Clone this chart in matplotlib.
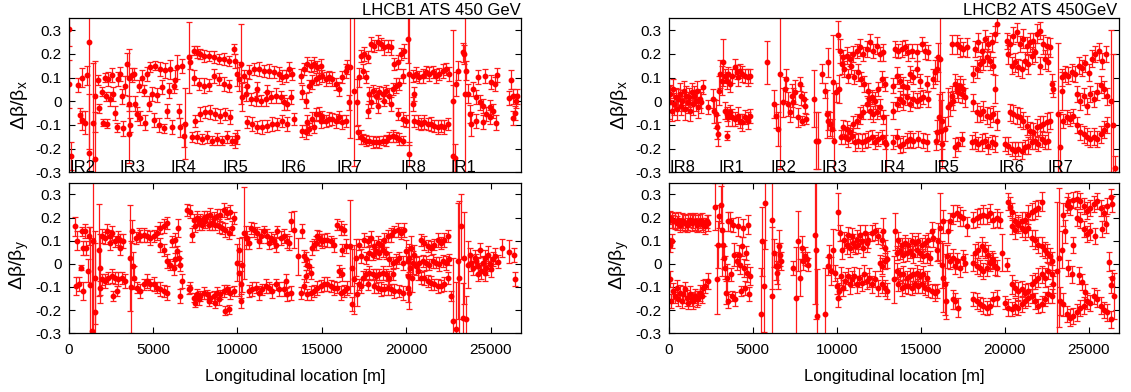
import matplotlib
matplotlib.use("Agg")
import matplotlib.pyplot as plt

plt.rcParams["font.family"] = ["Liberation Sans", "DejaVu Sans"]
plt.rcParams["mathtext.fontset"] = "custom"
plt.rcParams["mathtext.rm"] = "Liberation Sans"
plt.rcParams["mathtext.it"] = "Liberation Sans:italic"

# ---------------- beam 1, horizontal ----------------
b1x_s = [
    30, 40, 130, 584, 683, 782, 800, 980, 1079,
    1237, 1220, 1475, 1574, 1540,
    1772, 1831, 1970, 2030, 2168, 2227, 2306, 2366, 2465,
    2564, 2663, 2762, 2861, 2960, 3059, 3158, 3257, 3356, 3455, 3554, 3560, 3600, 3653,
    3752, 3851, 3950, 4049, 4148, 4247, 4346, 4445, 4544, 4643,
    4742, 4841, 4940, 5039, 5138, 5237, 5336, 5435, 5534, 5633, 5732, 5831, 5930,
    6029, 6128, 6227, 6326, 6425, 6524, 6623, 6722, 6860, 6920, 7118, 7217,
    7415, 7613, 7811, 8009, 8306, 8603, 8900, 9197, 9494,
    7430, 7712, 8020, 8317, 8614, 8911, 9208, 9505,
    7514, 7811, 8108, 8405, 8702, 8999, 9296, 9593,
    7316, 7613, 7910, 8207, 8504, 8801, 9098, 9395, 9692,
    9791, 9890, 9989, 10088, 10187, 10286, 9989, 9890,
    10385, 10682, 10979, 11276, 11573, 11870, 12167, 12464,
    10484, 10781, 11078, 11375, 11672, 11969, 12266, 12563, 10583, 11177, 11771,
    10583, 10880, 11177, 11474, 11771, 12068, 12365,
    12662, 12860, 13058, 13256, 12761, 12959, 13157, 12662, 12959, 13355,
    13751, 13949, 14147, 14345, 14543, 14741, 14939,
    13850, 14048, 14246, 14444, 14642, 14840, 15038,
    13850, 14048, 14246, 14444, 14642, 14840, 15038, 14147, 14543, 14939,
    15236, 15434, 15632, 15830, 16028, 16226, 16424, 16523,
    15236, 15434, 15632, 15830, 16028, 16226, 16424, 16622,
    16681, 16919, 17077, 17157, 17216, 17315,
    17315, 17513, 17711, 17909, 18107, 18305, 18503, 18701, 18899, 19097, 19295, 19493, 19691, 19889,
    17414, 17612, 17810, 18008, 18206, 18404, 18602, 18800, 18998, 19196, 19394, 19592, 19790,
    17414, 17612, 17810, 18008, 18206, 18404, 18602, 18800, 18998, 19196, 19394, 19592, 19790,
    17711, 17909, 18305, 18701, 19097, 19493, 19790, 19988,
    20127, 20186, 20190,
    20384, 20582, 20780, 20978, 21176, 21374, 21572, 21770, 21968, 22166, 22364, 22562,
    20483, 20681, 20879, 21077, 21275, 21473, 21671, 21869, 22067, 22265, 22463, 20384, 20483,
    22760, 22800, 22918, 22958, 23057, 23354, 23453, 23493, 23552, 23651, 23750, 23849,
    23948, 24146, 24344, 24542, 24740, 24938, 25136, 24245, 24641, 25037, 25235, 24146, 24542, 24938,
    25300, 25350, 26100, 26200, 26300, 26350, 26450, 26500, 26550,
]
b1x_val = [
    0.305, 0.073, -0.23, 0.07, -0.06, 0.10, -0.08, -0.09, 0.11,
    0.25, -0.22, -0.09, -0.245, 0.02,
    0.09, -0.03, 0.04, -0.09, 0.10, 0.02, -0.095, 0.095, 0.01,
    0.11, 0.03, -0.05, -0.11, 0.095, 0.115, 0.02, -0.115, 0.065, 0.155, -0.01, 0.10, -0.14, -0.10,
    0.11, 0.115, -0.01, -0.055, 0.065, -0.07, 0.10, 0.045, -0.09, 0.115,
    -0.01, 0.145, 0.03, -0.08, 0.15, 0.025, -0.10, 0.135, 0.06, -0.115, 0.13, -0.04, 0.045,
    0.135, -0.11, 0.065, 0.09, 0.145, -0.04, -0.11, 0.15, -0.145, -0.095, 0.185, 0.165,
    0.213, 0.206, 0.20, 0.19, 0.19, 0.188, 0.178, 0.178, 0.17,
    0.10, 0.073, 0.066, 0.07, 0.108, 0.094, 0.073, 0.066,
    -0.082, -0.054, -0.047, -0.047, -0.054, -0.061, -0.054, -0.068,
    -0.152, -0.152, -0.159, -0.152, -0.166, -0.159, -0.166, -0.152, -0.166,
    0.22, 0.17, 0.115, 0.094, 0.157, 0.017, -0.152, -0.166,
    0.108, 0.122, 0.136, 0.136, 0.129, 0.126, 0.122, 0.115,
    0.031, 0.01, 0.01, 0.003, 0.01, 0.017, 0.024, 0.017, 0.066, 0.052, 0.038,
    -0.089, -0.096, -0.11, -0.11, -0.103, -0.096, -0.096,
    0.101, 0.108, 0.136, 0.115, -0.005, -0.012, 0.017, -0.082, -0.096, -0.075,
    0.108, 0.136, 0.157, 0.15, 0.157, 0.143, 0.15,
    0.038, 0.003, 0.066, 0.08, 0.094, 0.101, 0.108,
    -0.124, -0.131, -0.117, -0.075, -0.054, -0.054, -0.068, -0.089, -0.11, -0.082,
    0.094, 0.101, 0.094, 0.073, 0.052, 0.101, 0.129, 0.143,
    -0.082, -0.075, -0.075, -0.082, -0.068, -0.089, -0.082, -0.005,
    0.143, 0.045, -0.005, -0.131, 0.101, -0.152,
    0.192, 0.199, 0.185, 0.241, 0.234, 0.248, 0.241, 0.227, 0.234, 0.227, 0.157, 0.164, 0.199, 0.213,
    0.129, 0.101, 0.031, 0.045, 0.024, 0.038, 0.031, 0.045, 0.024, 0.052, 0.066, 0.073, 0.108,
    -0.159, -0.166, -0.166, -0.173, -0.173, -0.173, -0.166, -0.166, -0.152, -0.145, -0.152, -0.159, -0.166,
    -0.04, -0.005, -0.019, 0.003, -0.012, -0.054, -0.075, -0.082,
    0.263, 0.115, -0.222,
    0.108, 0.115, 0.101, 0.108, 0.122, 0.115, 0.122, 0.108, 0.115, 0.129, 0.136, 0.115,
    -0.082, -0.089, -0.096, -0.089, -0.096, -0.096, -0.103, -0.11, -0.103, -0.11, -0.096, -0.012, 0.031,
    -0.23, 0.0, -0.24, 0.073, 0.129, 0.206, 0.199, 0.031, 0.129, 0.031, -0.054, -0.096,
    0.052, 0.017, -0.005, -0.019, -0.054, -0.026, -0.04, 0.101, 0.108, 0.08, 0.073, -0.082, -0.089, -0.068,
    -0.09, 0.11, 0.015, 0.09, -0.07, 0.02, -0.05, 0.0, 0.02,
]
b1x_err = [
    0.07, 0.10, 0.06, 0.03, 0.03, 0.04, 0.04, 0.05, 0.04,
    0.45, 0.25, 0.25, 0.20, 0.15,
    0.02, 0.02, 0.02, 0.015, 0.02, 0.02, 0.02, 0.03, 0.03,
    0.03, 0.03, 0.03, 0.02, 0.03, 0.03, 0.03, 0.03, 0.04, 0.05, 0.03, 0.12, 0.12, 0.03,
    0.03, 0.025, 0.03, 0.03, 0.025, 0.03, 0.03, 0.025, 0.03, 0.03,
    0.03, 0.02, 0.03, 0.03, 0.02, 0.03, 0.03, 0.03, 0.03, 0.02, 0.03, 0.03, 0.03,
    0.04, 0.03, 0.03, 0.04, 0.05, 0.03, 0.04, 0.03, 0.05, 0.15, 0.15, 0.03,
    0.02, 0.025, 0.02, 0.025, 0.02, 0.025, 0.02, 0.025, 0.02,
    0.03, 0.025, 0.03, 0.025, 0.03, 0.025, 0.03, 0.025,
    0.025, 0.03, 0.025, 0.03, 0.025, 0.03, 0.025, 0.03,
    0.02, 0.025, 0.02, 0.025, 0.02, 0.025, 0.02, 0.025, 0.02,
    0.02, 0.03, 0.05, 0.05, 0.17, 0.06, 0.03, 0.03,
    0.025, 0.03, 0.025, 0.03, 0.025, 0.03, 0.025, 0.03,
    0.03, 0.025, 0.03, 0.025, 0.03, 0.025, 0.03, 0.025, 0.03, 0.03, 0.03,
    0.025, 0.03, 0.025, 0.03, 0.025, 0.03, 0.025,
    0.03, 0.025, 0.03, 0.025, 0.03, 0.025, 0.03, 0.025, 0.03, 0.025,
    0.03, 0.025, 0.03, 0.025, 0.03, 0.025, 0.03,
    0.03, 0.03, 0.025, 0.03, 0.025, 0.03, 0.025,
    0.025, 0.03, 0.025, 0.03, 0.025, 0.03, 0.025, 0.03, 0.025, 0.03,
    0.03, 0.025, 0.03, 0.025, 0.03, 0.025, 0.03, 0.03,
    0.025, 0.03, 0.025, 0.03, 0.025, 0.03, 0.025, 0.03,
    0.30, 0.32, 0.10, 0.03, 0.04, 0.03,
    0.025, 0.03, 0.025, 0.03, 0.025, 0.03, 0.025, 0.03, 0.025, 0.03, 0.025, 0.03, 0.025, 0.03,
    0.03, 0.025, 0.03, 0.025, 0.03, 0.025, 0.03, 0.025, 0.03, 0.025, 0.03, 0.025, 0.03,
    0.02, 0.025, 0.02, 0.025, 0.02, 0.025, 0.02, 0.025, 0.02, 0.025, 0.02, 0.025, 0.02,
    0.03, 0.025, 0.03, 0.025, 0.03, 0.025, 0.03, 0.025,
    0.10, 0.30, 0.05,
    0.025, 0.03, 0.025, 0.03, 0.025, 0.03, 0.025, 0.03, 0.025, 0.03, 0.025, 0.03,
    0.025, 0.03, 0.025, 0.03, 0.025, 0.03, 0.025, 0.03, 0.025, 0.03, 0.025, 0.03, 0.03,
    0.30, 0.30, 0.06, 0.05, 0.04, 0.04, 0.04, 0.33, 0.04, 0.04, 0.04, 0.05,
    0.03, 0.03, 0.03, 0.03, 0.03, 0.03, 0.03, 0.03, 0.03, 0.03, 0.03, 0.03, 0.03, 0.03,
    0.03, 0.03, 0.03, 0.04, 0.03, 0.03, 0.03, 0.03, 0.03,
]

# ---------------- beam 1, vertical ----------------
b1y_s = [
    386, 525, 445, 643, 723, 782, 841, 881, 980, 1039,
    1180, 1240, 1280, 1380, 1470, 1540, 1580, 1830, 1850,
    1970, 2168, 2267, 2465, 2564, 2762, 2960, 3059, 3257,
    1871, 1970, 2168, 2366, 2564, 2762, 2960, 3158, 3356, 2663, 2861, 2465, 3059,
    3653, 3712, 3752, 3811, 3851,
    4009, 4148, 4247, 4445, 4643, 4841, 5039, 5237, 5435, 5633, 5831,
    4049, 4247, 4445, 4643, 4841, 5039, 5237, 5435, 5633, 5831,
    5435, 5633, 5831, 6029, 6227, 6425, 6524, 6326, 6623, 6128, 6326, 6465, 6722, 6623,
    7019, 7217, 7415, 7613, 7811, 8009, 8207, 8405, 8603, 8801, 8999, 9197, 9395, 9593, 9791,
    7316, 7514, 7712, 7910, 8108, 8306, 8504, 8702, 8900, 9098, 9296, 9494, 9692,
    7118, 7217, 7415, 7613, 7811, 8009, 8207, 8405, 8603, 8801, 8999, 9197, 9395, 9593, 9791,
    7514, 7712, 8306, 8702, 9296, 9494, 8900,
    9989, 10088, 10187, 10286, 10385, 10484, 10187, 10088,
    10583, 10781, 10979, 11177, 11375, 11573, 11771, 11969, 12167, 12365, 12563, 10682, 11276, 11870, 12266,
    10682, 10880, 11078, 11276, 11474, 11672, 11870, 12068, 12266, 12464,
    12761, 12959, 13157, 13355, 13058, 12761, 12959, 13157, 12860, 13593,
    13850, 13949, 14048, 14147, 14246, 14345, 14444, 14543, 14642, 14741, 14840, 14939, 15038, 15137,
    13751, 13949, 14147, 14345, 14543, 14741, 14939, 15137, 14048,
    15335, 15533, 15731, 15929, 16127, 16325, 16424, 16226, 15335, 15533, 15731, 15929, 16127, 16325, 16523, 16028, 16226,
    16681, 16820, 16919, 17018, 17077, 16820,
    17216, 17513, 17711, 17909, 18107, 18305, 18503, 18701, 18899, 19097, 19295, 19493, 19691, 19889,
    17315, 17612, 17810, 18008, 18206, 18404, 18602, 18800, 18998, 19196, 19394, 19592, 19790,
    17216, 17414, 17612, 17810, 18008, 18206, 18404, 18602, 18800, 18998, 19196,
    17315, 17711, 18107, 18305, 18503, 18701, 18899, 19097, 19295, 19592, 19790,
    19988, 20087, 20127, 20186, 20245, 20285, 20325, 20384, 20483, 20582, 20681, 20127, 20186,
    20879, 21077, 21275, 21473, 21671, 21869, 22067, 22265, 22463,
    20780, 20978, 21176, 21374, 21572, 21770, 21968, 22166, 22364, 22562,
    20879, 21077, 21275, 21473, 21671, 21869, 22067, 22265, 22463, 22661,
    22760, 22958, 23057, 23156, 23255, 23354, 23453, 23552, 23651,
    23750, 23849, 23948, 24047, 24146, 24245, 24344, 24443, 24542, 24641, 24740, 24839, 24938, 25037, 25136, 25235, 24245, 24641,
    25450, 25700, 26100, 26400, 26450,
]
b1y_val = [
    0.162, 0.10, -0.096, -0.089, -0.017, 0.14, 0.069, -0.117, 0.14, 0.069,
    -0.03, 0.12, -0.09, -0.29, 0.10, -0.21, -0.06, 0.06, -0.02,
    0.119, 0.112, 0.14, 0.119, 0.133, 0.097, 0.112, 0.104, 0.097,
    -0.103, -0.067, -0.074, -0.06, -0.053, -0.06, -0.067, -0.06, -0.074, -0.139, -0.117, 0.09, 0.069,
    0.026, -0.10, 0.14, -0.01, -0.06,
    0.112, 0.126, 0.12, 0.126, 0.12, 0.112, 0.12, 0.133, 0.155, 0.162, 0.176,
    -0.103, -0.117, -0.089, -0.074, -0.089, -0.089, -0.103, -0.11, -0.117, -0.125,
    0.083, 0.06, 0.012, -0.003, -0.017, 0.054, 0.026, 0.02, -0.003, 0.097, 0.104, 0.155, -0.074, -0.14,
    0.233, 0.226, 0.19, 0.197, 0.19, 0.197, 0.205, 0.212, 0.197, 0.205, 0.212, 0.233, 0.219, 0.226, 0.197,
    0.126, 0.162, 0.176, 0.169, 0.183, 0.169, 0.176, 0.169, 0.162, 0.155, 0.148, 0.133, 0.155,
    -0.11, -0.103, -0.146, -0.132, -0.139, -0.125, -0.132, -0.146, -0.139, -0.125, -0.132, -0.117, -0.11, -0.125, -0.117,
    -0.167, -0.153, -0.16, -0.167, -0.203, -0.196, -0.153,
    0.005, -0.039, -0.089, -0.003, 0.133, 0.112, -0.16, 0.061,
    0.112, 0.155, 0.148, 0.133, 0.12, 0.14, 0.12, 0.112, 0.097, 0.14, 0.112, 0.09, 0.097, 0.09, 0.083,
    -0.117, -0.11, -0.103, -0.125, -0.11, -0.096, -0.103, -0.117, -0.089, -0.11,
    0.12, 0.097, 0.183, 0.148, 0.09, -0.11, -0.132, -0.125, -0.074, 0.033,
    0.14, 0.033, 0.019, -0.003, -0.01, -0.039, 0.069, 0.083, 0.09, 0.12, 0.112, 0.104, 0.097, 0.104,
    -0.125, -0.096, -0.132, -0.125, -0.117, -0.103, -0.096, -0.089, -0.053,
    0.104, 0.097, 0.083, 0.169, 0.155, 0.148, 0.076, 0.061, -0.089, -0.096, -0.103, -0.103, -0.125, -0.117, -0.103, -0.031, -0.046,
    0.076, -0.017, -0.067, 0.026, -0.132, -0.174,
    0.083, 0.104, 0.097, 0.112, 0.076, 0.09, 0.083, 0.104, 0.12, 0.126, 0.14, 0.148, 0.133, 0.148,
    0.033, 0.026, 0.047, 0.04, 0.054, 0.047, 0.061, 0.047, 0.019, 0.005, 0.012, 0.026, 0.005,
    -0.089, -0.06, -0.046, -0.039, -0.046, -0.053, -0.046, -0.039, -0.046, -0.06, -0.046,
    -0.096, -0.089, -0.096, -0.103, -0.11, -0.11, -0.103, -0.11, -0.117, -0.117, -0.125,
    0.054, 0.012, -0.053, 0.026, -0.017, 0.069, -0.06, 0.005, 0.04, -0.01, -0.031, -0.103, -0.125,
    0.104, 0.09, 0.076, 0.069, 0.083, 0.104, 0.09, 0.104, 0.12,
    0.005, 0.012, 0.005, -0.003, 0.012, 0.005, 0.0, 0.012, 0.005, 0.019,
    -0.06, -0.06, -0.074, -0.082, -0.089, -0.096, -0.096, -0.089, -0.06, -0.139,
    -0.246, -0.28, 0.012, -0.06, 0.162, -0.232, 0.026, -0.24, -0.003,
    0.04, 0.005, -0.017, 0.026, 0.012, -0.01, 0.061, -0.031, 0.005, 0.026, -0.017, 0.04, 0.0, -0.024, 0.019, 0.033, -0.046, -0.039,
    0.01, 0.068, 0.053, 0.038, -0.065,
]
b1y_err = [
    0.04, 0.04, 0.04, 0.03, 0.01, 0.02, 0.03, 0.04, 0.03, 0.03,
    0.05, 0.04, 0.25, 0.40, 0.45, 0.30, 0.20, 0.20, 0.15,
    0.03, 0.025, 0.03, 0.025, 0.03, 0.025, 0.03, 0.025, 0.03,
    0.03, 0.025, 0.03, 0.025, 0.03, 0.025, 0.03, 0.025, 0.03, 0.02, 0.02, 0.03, 0.03,
    0.23, 0.20, 0.05, 0.06, 0.05,
    0.025, 0.03, 0.025, 0.03, 0.025, 0.03, 0.025, 0.03, 0.025, 0.03, 0.025,
    0.025, 0.03, 0.025, 0.03, 0.025, 0.03, 0.025, 0.03, 0.025, 0.03,
    0.03, 0.025, 0.03, 0.025, 0.03, 0.025, 0.03, 0.025, 0.03, 0.025, 0.03, 0.04, 0.03, 0.03,
    0.025, 0.03, 0.025, 0.03, 0.025, 0.03, 0.025, 0.03, 0.025, 0.03, 0.025, 0.03, 0.025, 0.03, 0.025,
    0.03, 0.025, 0.03, 0.025, 0.03, 0.025, 0.03, 0.025, 0.03, 0.025, 0.03, 0.025, 0.03,
    0.02, 0.025, 0.02, 0.025, 0.02, 0.025, 0.02, 0.025, 0.02, 0.025, 0.02, 0.025, 0.02, 0.025, 0.02,
    0.02, 0.025, 0.02, 0.025, 0.02, 0.02, 0.025,
    0.08, 0.10, 0.06, 0.12, 0.20, 0.05, 0.03, 0.05,
    0.03, 0.025, 0.03, 0.025, 0.03, 0.025, 0.03, 0.025, 0.03, 0.025, 0.03, 0.025, 0.03, 0.025, 0.03,
    0.025, 0.03, 0.025, 0.03, 0.025, 0.03, 0.025, 0.03, 0.025, 0.03,
    0.03, 0.03, 0.04, 0.08, 0.03, 0.03, 0.03, 0.03, 0.03, 0.08,
    0.03, 0.025, 0.03, 0.025, 0.03, 0.025, 0.03, 0.025, 0.03, 0.025, 0.03, 0.025, 0.03, 0.025,
    0.025, 0.03, 0.025, 0.03, 0.025, 0.03, 0.025, 0.03, 0.025,
    0.03, 0.025, 0.03, 0.025, 0.03, 0.025, 0.03, 0.025, 0.03, 0.025, 0.03, 0.025, 0.03, 0.025, 0.03, 0.025, 0.03,
    0.20, 0.08, 0.15, 0.08, 0.05, 0.03,
    0.025, 0.03, 0.025, 0.03, 0.025, 0.03, 0.025, 0.03, 0.025, 0.03, 0.025, 0.03, 0.025, 0.03,
    0.03, 0.025, 0.03, 0.025, 0.03, 0.025, 0.03, 0.025, 0.03, 0.025, 0.03, 0.025, 0.03,
    0.025, 0.03, 0.025, 0.03, 0.025, 0.03, 0.025, 0.03, 0.025, 0.03, 0.025,
    0.03, 0.025, 0.03, 0.025, 0.03, 0.025, 0.03, 0.025, 0.03, 0.025, 0.03,
    0.05, 0.06, 0.06, 0.06, 0.05, 0.05, 0.06, 0.05, 0.04, 0.04, 0.04, 0.06, 0.07,
    0.025, 0.03, 0.025, 0.03, 0.025, 0.03, 0.025, 0.03, 0.025,
    0.03, 0.025, 0.03, 0.025, 0.03, 0.025, 0.03, 0.025, 0.03, 0.025,
    0.025, 0.03, 0.025, 0.03, 0.025, 0.03, 0.025, 0.03, 0.025, 0.02,
    0.27, 0.20, 0.25, 0.33, 0.14, 0.15, 0.20, 0.10, 0.10,
    0.03, 0.035, 0.03, 0.035, 0.03, 0.035, 0.03, 0.035, 0.03, 0.035, 0.03, 0.035, 0.03, 0.035, 0.03, 0.035, 0.03, 0.035,
    0.03, 0.04, 0.05, 0.03, 0.03,
]

# ---------------- beam 2, horizontal ----------------
b2x_s = [
    18, 77, 177, 276, 335, 414, 494, 573, 652, 732, 811, 890, 970,
    1049, 1128, 1208, 1287, 1366, 1446, 1525, 1604, 1684, 1763, 1842, 1922, 2021,
    2358, 2655, 2715, 2794, 2873, 2913, 2992, 3052, 3151, 3250,
    3349, 3448, 3548, 3647, 3746, 3944, 4043, 4143, 4242, 4380, 4539, 4698, 4837,
    3349, 3448, 3548, 3647, 3786, 3944, 4102, 4242, 4380, 4539, 4698, 4837, 3448,
    5828, 6284, 6364, 6522, 6621, 6820, 6919, 6978, 7117, 7216,
    7315, 7415, 7514, 7712, 7811, 7870, 7950, 8049, 8109, 8148,
    8664, 8743, 8902, 9100, 9298, 9398, 9497, 9457, 9596,
    9695, 9794, 9854, 9933, 10052, 10131, 10191, 10230, 10290,
    10389, 10587, 10786, 10984, 11182, 11380, 11579, 11777,
    10449, 10647, 10845, 11043, 11241, 11440, 11638, 11837,
    10389, 10587, 10786, 10984, 11182, 11380, 11579, 11777, 11916,
    10488, 10687, 10885, 11083, 11281, 11480, 11678, 11876,
    11977, 12175, 12374, 12572, 12770,
    12076, 12274, 12473, 12671, 12869,
    12175, 12374, 12572, 12770, 11977,
    12076, 12274, 12473, 12671, 12869, 12929,
    13464, 13662, 13861, 14059, 14257, 14456, 14753, 15051, 15249, 15447,
    13365, 13563, 13762, 13960, 14158, 14357, 14555, 14753, 14952, 15348,
    13365, 13563, 13762, 13960, 14158, 14357, 14555, 14753, 14952, 15150, 15447,
    13365, 13563, 13762, 13960, 14158, 14357, 14555, 14853, 15150, 15348,
    15745, 15844, 15943, 16042, 16141, 16101, 16180, 16240, 16280, 15983, 15904, 16439,
    16637, 16736, 16835, 16934, 17033, 17132, 17232, 17331, 17430, 17529, 17628,
    16835, 17132, 17331, 17529, 17727, 17033, 17232, 17430,
    18223, 18422, 18620, 18819, 19017, 19215, 19413, 19513,
    18124, 18323, 18521, 18720, 18918, 19116, 19314, 19413,
    18124, 18323, 18521, 18720, 18918, 19116, 19314, 19513,
    18025, 18223, 18422, 18620, 18819, 19017, 19215, 19413,
    20107, 20306, 20504, 20702, 20901, 21099, 21297, 21496, 21694, 21892, 22091, 22289, 22487, 22685,
    20207, 20405, 20603, 20801, 21000, 21198, 21396, 21595, 21793, 22091, 22388, 22586, 22784, 22884,
    20306, 20504, 20702, 20901, 21099, 21297, 21496, 21694, 21892, 22091, 22289, 22487, 22685,
    20009, 20207, 20405, 20603, 20801, 21000, 21198, 21396, 21595, 21793, 21991, 22190, 22388, 22586,
    23181, 23280, 23380, 23578, 23777, 23975, 24172, 23479, 23677, 23876, 24074, 23380,
    24400, 24600, 24800, 25000, 25200, 25400, 25600, 25800, 26000,
    24300, 24500, 24700, 24900, 25100, 25300, 25500, 25700, 25900, 26100,
    24300, 24500, 24700, 24900, 25100, 25300, 25500, 25700, 25900, 26100,
    26350, 26450, 26550,
]
b2x_val = [
    -0.005, 0.03, -0.04, 0.052, -0.012, 0.017, -0.033, 0.01, 0.031, -0.019, 0.003, 0.045, -0.033,
    0.024, -0.005, 0.017, -0.04, 0.038, -0.012, 0.024, 0.003, 0.045, -0.026, 0.01, -0.005, 0.059,
    -0.026, 0.01, -0.04, -0.054, -0.11, -0.138, 0.045, 0.115, 0.087, 0.164,
    0.108, 0.087, 0.115, 0.073, 0.108, 0.143, 0.122, 0.101, 0.129, 0.115, 0.108, 0.101, 0.108,
    -0.04, -0.054, -0.068, -0.047, -0.068, -0.075, -0.061, -0.082, -0.089, -0.068, -0.082, -0.061, -0.145,
    0.164, -0.012, -0.061, -0.117, 0.115, -0.005, 0.052, 0.094, -0.012, -0.047,
    0.024, -0.005, 0.038, -0.068, 0.073, 0.024, -0.082, 0.01, -0.019, -0.075,
    0.01, -0.166, -0.166, 0.115, 0.045, -0.054, 0.164, -0.082, -0.096,
    -0.117, 0.08, -0.166, 0.038, 0.28, 0.052, 0.213, -0.152, 0.157,
    0.185, 0.192, 0.178, 0.199, 0.213, 0.227, 0.199, 0.22,
    0.136, 0.108, 0.15, 0.101, 0.122, 0.094, 0.073, 0.045,
    -0.11, -0.117, -0.131, -0.096, -0.082, -0.061, -0.047, -0.012, 0.01,
    -0.152, -0.159, -0.145, -0.173, -0.166, -0.173, -0.166, -0.159,
    0.248, 0.213, 0.234, 0.199, 0.206,
    0.017, 0.003, 0.052, 0.094, 0.073,
    -0.054, -0.047, -0.026, -0.068, -0.04,
    -0.152, -0.173, -0.159, -0.152, -0.173, -0.18,
    0.22, 0.213, 0.22, 0.227, 0.206, 0.213, 0.206, 0.241, 0.213, 0.206,
    0.066, 0.108, 0.087, 0.066, 0.059, 0.115, 0.101, 0.136, 0.087, 0.073,
    -0.04, -0.012, 0.01, -0.005, 0.017, -0.012, 0.01, 0.003, 0.01, 0.017, 0.01,
    -0.173, -0.152, -0.187, -0.18, -0.166, -0.159, -0.166, -0.159, -0.166, -0.173,
    0.094, 0.122, 0.136, 0.185, 0.178, -0.068, -0.124, -0.18, -0.082, -0.131, -0.166, -0.117,
    -0.026, -0.012, 0.024, 0.003, 0.073, 0.052, 0.038, 0.066, 0.031, 0.052, 0.017,
    0.241, 0.241, 0.227, 0.22, 0.227, -0.194, -0.18, -0.159,
    0.22, 0.248, 0.213, 0.262, 0.241, 0.248, 0.284, 0.326,
    0.115, 0.136, 0.157, 0.171, 0.185, 0.171, 0.15, 0.052,
    -0.005, -0.047, -0.054, -0.04, -0.061, -0.068, -0.054, -0.082,
    -0.173, -0.166, -0.18, -0.173, -0.166, -0.187, -0.173, -0.18,
    0.255, 0.241, 0.277, 0.291, 0.241, 0.263, 0.234, 0.248, 0.255, 0.284, 0.298, 0.241, 0.234, 0.227,
    0.199, 0.15, 0.164, 0.143, 0.136, 0.171, 0.157, 0.192, 0.206, 0.15, 0.178, 0.164, 0.073, 0.052,
    -0.047, -0.054, -0.061, -0.068, -0.082, -0.103, -0.124, -0.131, -0.11, -0.103, -0.096, -0.089, -0.082,
    -0.18, -0.187, -0.201, -0.208, -0.201, -0.208, -0.194, -0.187, -0.173, -0.166, -0.18, -0.159, -0.173, -0.166,
    -0.054, -0.194, 0.101, 0.115, 0.108, 0.122, 0.115, -0.082, -0.068, -0.075, -0.061, 0.045,
    0.15, 0.14, 0.16, 0.12, 0.18, 0.20, 0.21, 0.17, 0.20,
    0.03, 0.0, 0.02, -0.02, 0.03, 0.01, 0.04, 0.07, 0.05, 0.02,
    -0.10, -0.13, -0.14, -0.15, -0.16, -0.15, -0.16, -0.14, -0.12, -0.10,
    0.0, -0.10, -0.28,
]
b2x_err = [
    0.07, 0.04, 0.045, 0.04, 0.045, 0.04, 0.045, 0.04, 0.045, 0.04, 0.045, 0.04, 0.045,
    0.04, 0.045, 0.04, 0.045, 0.04, 0.045, 0.04, 0.045, 0.04, 0.045, 0.04, 0.045, 0.03,
    0.03, 0.04, 0.05, 0.06, 0.05, 0.05, 0.06, 0.06, 0.06, 0.10,
    0.03, 0.035, 0.03, 0.035, 0.03, 0.035, 0.03, 0.035, 0.03, 0.035, 0.03, 0.035, 0.03,
    0.035, 0.03, 0.035, 0.03, 0.035, 0.03, 0.035, 0.03, 0.035, 0.03, 0.035, 0.03, 0.02,
    0.09, 0.06, 0.05, 0.07, 0.40, 0.06, 0.05, 0.04, 0.05, 0.04,
    0.05, 0.06, 0.05, 0.04, 0.03, 0.04, 0.02, 0.03, 0.03, 0.02,
    0.12, 0.12, 0.12, 0.04, 0.03, 0.10, 0.06, 0.04, 0.05,
    0.04, 0.20, 0.20, 0.04, 0.06, 0.06, 0.05, 0.03, 0.04,
    0.03, 0.035, 0.03, 0.035, 0.03, 0.035, 0.03, 0.035,
    0.035, 0.03, 0.035, 0.03, 0.035, 0.03, 0.035, 0.03,
    0.03, 0.035, 0.03, 0.035, 0.03, 0.035, 0.03, 0.035, 0.03,
    0.03, 0.035, 0.03, 0.035, 0.03, 0.035, 0.03, 0.035,
    0.035, 0.03, 0.035, 0.03, 0.035,
    0.03, 0.035, 0.03, 0.035, 0.03,
    0.035, 0.03, 0.035, 0.03, 0.035,
    0.03, 0.03, 0.03, 0.03, 0.03, 0.12,
    0.035, 0.03, 0.035, 0.03, 0.035, 0.03, 0.035, 0.03, 0.035, 0.03,
    0.03, 0.035, 0.03, 0.035, 0.03, 0.035, 0.03, 0.035, 0.03, 0.035,
    0.035, 0.03, 0.035, 0.03, 0.035, 0.03, 0.035, 0.03, 0.035, 0.03, 0.035,
    0.03, 0.035, 0.03, 0.035, 0.03, 0.035, 0.03, 0.035, 0.03, 0.035,
    0.04, 0.05, 0.05, 0.06, 0.30, 0.10, 0.13, 0.10, 0.12, 0.05, 0.04, 0.05,
    0.08, 0.05, 0.04, 0.04, 0.04, 0.04, 0.04, 0.04, 0.04, 0.04, 0.04,
    0.04, 0.04, 0.04, 0.03, 0.04, 0.04, 0.03, 0.03,
    0.035, 0.04, 0.035, 0.04, 0.035, 0.04, 0.035, 0.04,
    0.035, 0.04, 0.035, 0.04, 0.035, 0.04, 0.035, 0.06,
    0.035, 0.04, 0.035, 0.04, 0.035, 0.04, 0.035, 0.04,
    0.03, 0.035, 0.03, 0.035, 0.03, 0.035, 0.03, 0.035,
    0.035, 0.04, 0.035, 0.04, 0.035, 0.04, 0.035, 0.04, 0.035, 0.04, 0.035, 0.04, 0.035, 0.04,
    0.04, 0.035, 0.04, 0.035, 0.04, 0.035, 0.04, 0.035, 0.04, 0.035, 0.04, 0.035, 0.04, 0.035,
    0.035, 0.04, 0.035, 0.04, 0.035, 0.04, 0.035, 0.04, 0.035, 0.04, 0.035, 0.04, 0.035,
    0.03, 0.035, 0.03, 0.035, 0.03, 0.035, 0.03, 0.035, 0.03, 0.035, 0.03, 0.035, 0.03, 0.035,
    0.30, 0.15, 0.035, 0.035, 0.035, 0.035, 0.035, 0.03, 0.03, 0.03, 0.03, 0.08,
    0.035, 0.035, 0.035, 0.035, 0.035, 0.035, 0.035, 0.035, 0.035,
    0.035, 0.035, 0.035, 0.035, 0.035, 0.035, 0.035, 0.035, 0.035, 0.035,
    0.035, 0.035, 0.035, 0.035, 0.035, 0.035, 0.035, 0.035, 0.035, 0.035,
    0.30, 0.30, 0.05,
]

# ---------------- beam 2, vertical ----------------
b2y_s = [
    77, 177, 276, 375, 474, 573, 672, 771, 870, 970, 1069, 1168,
    1267, 1366, 1465, 1565, 1664, 1763, 1862, 1961, 2060, 2159, 2258, 2358,
    77, 177, 77, 137, 276, 375, 474, 573, 672, 771, 870, 970, 1069,
    1168, 1267, 1366, 1465, 1565, 1664, 1763, 1862, 1961, 2060, 2159, 2318,
    2754, 2853, 2913, 2992, 3111, 3191, 3250, 3310, 3349, 3389, 3448,
    3508, 3548, 3647, 3706, 3786, 3845, 3904, 3944, 4043, 4102, 4182,
    4242, 4301, 4380, 4440, 4499, 4579, 4638, 4698, 4777, 4837, 4539,
    5491, 5570, 5670, 5729, 6126, 6166, 6284, 6364, 6423, 6522, 6562, 6621, 6681,
    7415, 7573, 7712, 7811, 7910, 8009, 8109, 8208, 8268,
    8703, 8763, 8842, 9298, 9457, 9537, 9636, 9794,
    10092, 10191, 10330, 10449, 10587, 10687, 10786, 10885, 10984,
    11083, 11182, 11281, 11380, 11480, 11579, 11678, 11777, 11876,
    9893, 9992, 10052, 10131, 10250, 10389, 10488, 10647, 10786,
    10885, 11043, 11182, 11321, 11480, 11619, 11777, 11916,
    12076, 12274, 12473, 12671, 12770, 12869, 12572, 12671, 12869, 12968,
    12076, 12274, 12473, 12671, 12869, 12968, 13464, 13425,
    13662, 13861, 14059, 14257, 14456, 14654, 14852, 15051, 15249, 15447,
    13563, 13762, 13960, 14158, 14357, 14555, 14753, 14952, 15150, 15348, 15546,
    13563, 13762, 13960, 14158, 14357, 14555, 14753, 14952, 15150, 15348,
    13662, 13861, 14059, 14257, 14456, 14654, 14852, 15051, 15249, 15447, 15645, 15844, 15983,
    15645, 15745, 15943, 16042, 16141, 16240, 16300, 16340, 16439, 16499, 16578, 16637,
    16736, 16934, 17132, 17331, 17529, 17727, 16736, 16934, 17132, 17331, 17529, 17628, 17033, 16934, 17033, 17232,
    18124, 18323, 18521, 18720, 18918, 19116, 19314, 19513, 19711,
    18124, 18223, 18422, 18620, 18819, 19017, 19215, 19413, 18323,
    18521, 18720, 18918, 19116, 19314, 19513, 19810, 20107,
    18124, 18323, 18521, 18720, 18918, 19116, 19314, 19513,
    20207, 20306, 20405, 20603, 20801, 21000, 21198, 21396, 21595, 21793, 21991, 22190,
    20405, 20603, 20801, 21000, 21198, 21396, 21595, 21793, 21991, 22190, 22388, 22487, 22685, 22784,
    20405, 20603, 20801, 21000, 21198, 21396, 21595, 21793, 21991, 22190, 22388, 22586, 22784,
    20009, 20207, 20405, 20603, 20801, 21000, 21198, 21396, 21595, 21793, 21991, 22190, 22388, 22586, 22784, 22884,
    23082, 23240, 23280, 23380, 23479, 23578, 23479, 23677, 23777,
    23876, 24074, 23677, 23876, 24074, 23777, 23975, 24034,
    24300, 24500, 24700, 24900, 25100, 25300, 25500, 25700, 25900, 26100, 26300, 26400,
    24300, 24500, 24700, 24900, 25100, 25400, 25800, 26000, 26200,
    24300, 24500, 24700, 24900, 25100, 25300, 25500, 25700, 25900, 26100, 26300,
    24400, 24600, 24800, 26350, 26400, 26500,
]
b2y_val = [
    0.20, 0.19, 0.183, 0.186, 0.176, 0.19, 0.169, 0.183, 0.186, 0.176, 0.169, 0.18,
    0.19, 0.176, 0.186, 0.183, 0.169, 0.176, 0.186, 0.183, 0.169, 0.162, 0.183, 0.176,
    0.083, 0.097, -0.067, -0.16, -0.117, -0.139, -0.103, -0.153, -0.125, -0.16, -0.132, -0.11, -0.146,
    -0.167, -0.132, -0.153, -0.16, -0.139, -0.153, -0.146, -0.125, -0.139, -0.103, -0.096, -0.074,
    0.247, -0.067, 0.083, 0.205, 0.255, 0.147, 0.083, 0.026, -0.017, -0.125, -0.06,
    0.183, -0.16, 0.183, -0.046, -0.139, 0.169, 0.04, -0.153, 0.012, 0.162, 0.04,
    -0.003, -0.117, 0.076, 0.155, -0.017, 0.047, -0.039, 0.169, -0.132, -0.053, -0.103,
    -0.217, 0.097, -0.096, 0.262, -0.139, 0.19, 0.047, -0.01, -0.039, -0.01, 0.076, 0.04, 0.012,
    -0.017, -0.146, 0.097, -0.06, 0.069, 0.012, 0.033, 0.019, -0.003,
    0.126, 0.061, -0.224, -0.217, -0.01, 0.033, -0.031, 0.061,
    0.226, 0.133, 0.061, 0.104, 0.083, 0.126, 0.069, 0.119, 0.09,
    0.076, 0.104, 0.083, 0.126, 0.097, 0.069, 0.133, 0.09, 0.104,
    -0.039, -0.096, -0.146, -0.117, -0.053, -0.103, -0.074, -0.053, -0.089,
    -0.067, -0.053, -0.089, -0.06, -0.082, -0.046, -0.074, -0.06,
    0.133, 0.14, 0.119, 0.104, 0.14, 0.069, 0.004, -0.01, 0.012, 0.019,
    -0.089, -0.067, -0.103, -0.089, -0.103, -0.117, 0.14, -0.067,
    0.104, 0.083, 0.09, 0.083, 0.097, 0.09, 0.097, 0.083, 0.09, 0.104,
    0.047, 0.054, 0.04, 0.047, 0.054, 0.04, 0.061, 0.047, 0.033, 0.04, 0.026,
    -0.031, -0.046, -0.046, -0.06, -0.053, -0.046, -0.039, -0.053, -0.046, -0.06,
    -0.089, -0.103, -0.096, -0.096, -0.103, -0.089, -0.096, -0.089, -0.103, -0.11, -0.117, -0.125, -0.117,
    0.14, 0.112, 0.061, 0.097, 0.155, -0.003, 0.183, -0.06, -0.089, -0.16, 0.033, 0.14,
    0.183, 0.212, 0.219, 0.205, 0.197, 0.162, 0.012, 0.026, 0.012, -0.017, 0.026, 0.004, -0.01, -0.153, -0.16, -0.189,
    0.19, 0.197, 0.205, 0.212, 0.205, 0.219, 0.19, 0.197, 0.19,
    0.004, 0.047, 0.061, 0.076, 0.061, 0.04, 0.019, -0.01, -0.01,
    -0.017, -0.031, -0.017, 0.004, 0.012, -0.017, 0.047, -0.003,
    -0.153, -0.16, -0.174, -0.181, -0.189, -0.181, -0.153, -0.146,
    0.269, 0.247, 0.226, 0.183, 0.176, 0.183, 0.19, 0.212, 0.226, 0.233, 0.24, 0.269,
    0.162, 0.147, 0.169, 0.155, 0.14, 0.155, 0.112, 0.104, 0.083, 0.076, 0.061, 0.047, 0.033, 0.012,
    -0.089, -0.103, -0.117, -0.11, -0.125, -0.117, -0.089, -0.074, -0.06, -0.046, -0.06, -0.031, -0.046,
    -0.167, -0.189, -0.196, -0.181, -0.189, -0.174, -0.16, -0.146, -0.139, -0.16, -0.181, -0.174, -0.153, -0.132, -0.139, -0.089,
    -0.031, 0.026, -0.16, 0.061, 0.212, 0.14, -0.174, 0.255, 0.269,
    0.247, 0.276, -0.217, -0.232, -0.224, -0.017, -0.046, 0.083,
    0.28, 0.27, 0.25, 0.23, 0.24, 0.26, 0.27, 0.24, 0.22, 0.25, 0.29, 0.26,
    0.20, 0.19, 0.15, 0.13, 0.14, 0.12, 0.15, 0.17, 0.01,
    -0.21, -0.19, -0.18, -0.16, -0.17, -0.14, -0.15, -0.18, -0.20, -0.21, -0.24,
    -0.05, -0.08, -0.12, -0.09, -0.06, -0.14,
]
b2y_err = [
    0.03, 0.035, 0.03, 0.035, 0.03, 0.035, 0.03, 0.035, 0.03, 0.035, 0.03, 0.035,
    0.03, 0.035, 0.03, 0.035, 0.03, 0.035, 0.03, 0.035, 0.03, 0.035, 0.03, 0.035,
    0.03, 0.03, 0.035, 0.03, 0.035, 0.03, 0.035, 0.03, 0.035, 0.03, 0.035, 0.03, 0.035,
    0.03, 0.035, 0.03, 0.035, 0.03, 0.035, 0.03, 0.035, 0.03, 0.035, 0.03, 0.035,
    0.10, 0.15, 0.10, 0.05, 0.08, 0.20, 0.06, 0.05, 0.05, 0.05, 0.06,
    0.04, 0.03, 0.04, 0.03, 0.02, 0.03, 0.05, 0.03, 0.04, 0.04, 0.04,
    0.04, 0.02, 0.04, 0.04, 0.04, 0.03, 0.04, 0.04, 0.03, 0.04, 0.03,
    0.20, 0.15, 0.20, 0.20, 0.30, 0.30, 0.06, 0.06, 0.05, 0.10, 0.07, 0.05, 0.04,
    0.03, 0.22, 0.13, 0.08, 0.05, 0.04, 0.04, 0.03, 0.03,
    0.30, 0.30, 0.20, 0.20, 0.04, 0.05, 0.06, 0.09,
    0.08, 0.035, 0.04, 0.035, 0.04, 0.035, 0.04, 0.035, 0.04,
    0.035, 0.04, 0.035, 0.04, 0.035, 0.04, 0.035, 0.04, 0.035,
    0.035, 0.035, 0.04, 0.035, 0.04, 0.035, 0.04, 0.035, 0.04,
    0.035, 0.04, 0.035, 0.04, 0.035, 0.04, 0.035, 0.04,
    0.035, 0.035, 0.035, 0.035, 0.06, 0.035, 0.035, 0.035, 0.035, 0.035,
    0.035, 0.035, 0.035, 0.035, 0.035, 0.035, 0.08, 0.10,
    0.035, 0.03, 0.035, 0.03, 0.035, 0.03, 0.035, 0.03, 0.035, 0.03,
    0.03, 0.035, 0.03, 0.035, 0.03, 0.035, 0.03, 0.035, 0.03, 0.035, 0.03,
    0.035, 0.03, 0.035, 0.03, 0.035, 0.03, 0.035, 0.03, 0.035, 0.03,
    0.03, 0.035, 0.03, 0.035, 0.03, 0.035, 0.03, 0.035, 0.03, 0.035, 0.03, 0.035, 0.03,
    0.04, 0.04, 0.05, 0.08, 0.15, 0.10, 0.05, 0.15, 0.13, 0.08, 0.05, 0.05,
    0.035, 0.04, 0.035, 0.04, 0.035, 0.04, 0.035, 0.04, 0.035, 0.04, 0.035, 0.04, 0.035, 0.04, 0.035, 0.04,
    0.035, 0.04, 0.035, 0.04, 0.035, 0.04, 0.035, 0.04, 0.035,
    0.035, 0.04, 0.035, 0.04, 0.035, 0.04, 0.035, 0.04, 0.035,
    0.035, 0.035, 0.035, 0.035, 0.035, 0.035, 0.08, 0.03,
    0.03, 0.035, 0.03, 0.035, 0.03, 0.035, 0.03, 0.035,
    0.035, 0.04, 0.035, 0.04, 0.035, 0.04, 0.035, 0.04, 0.035, 0.04, 0.035, 0.04,
    0.035, 0.04, 0.035, 0.04, 0.035, 0.04, 0.035, 0.04, 0.035, 0.04, 0.035, 0.04, 0.035, 0.04,
    0.04, 0.035, 0.04, 0.035, 0.04, 0.035, 0.04, 0.035, 0.04, 0.035, 0.04, 0.035, 0.04,
    0.03, 0.035, 0.03, 0.035, 0.03, 0.035, 0.03, 0.035, 0.03, 0.035, 0.03, 0.035, 0.03, 0.035, 0.03, 0.035,
    0.30, 0.30, 0.06, 0.08, 0.05, 0.05, 0.05, 0.035, 0.035,
    0.035, 0.035, 0.035, 0.035, 0.035, 0.035, 0.035, 0.035,
    0.035, 0.035, 0.035, 0.035, 0.035, 0.035, 0.035, 0.035, 0.035, 0.035, 0.035, 0.035,
    0.035, 0.035, 0.035, 0.035, 0.035, 0.035, 0.035, 0.035, 0.04,
    0.035, 0.035, 0.035, 0.035, 0.035, 0.035, 0.035, 0.035, 0.035, 0.035, 0.035,
    0.035, 0.035, 0.035, 0.035, 0.035, 0.10,
]

# IR labels
ir_b1_names = ["IR2", "IR3", "IR4", "IR5", "IR6", "IR7", "IR8", "IR1"]
ir_b1_pos = [50, 3000, 6030, 9140, 12560, 15890, 19690, 22600]
ir_b2_names = ["IR8", "IR1", "IR2", "IR3", "IR4", "IR5", "IR6", "IR7"]
ir_b2_pos = [30, 2990, 6030, 9100, 12530, 15780, 19610, 22550]

ytick_vals = [-0.3, -0.2, -0.1, 0.0, 0.1, 0.2, 0.3]
ytick_text = ["-0.3", "-0.2", "-0.1", "0", "0.1", "0.2", "0.3"]
xtick_vals = [0, 5000, 10000, 15000, 20000, 25000]
xtick_text = ["0", "5000", "10000", "15000", "20000", "25000"]

W, H = 1131, 392
fig = plt.figure(figsize=(W / 100, H / 100), dpi=100)


def add_ax(x0, x1, y0, y1):
    return fig.add_axes([x0 / W, 1 - y1 / H, (x1 - x0) / W, (y1 - y0) / H])


def style(ax, bottom):
    ax.set_xlim(0, 26800)
    ax.set_ylim(-0.3, 0.35)
    ax.set_yticks(ytick_vals)
    ax.set_yticklabels(ytick_text, fontsize=11)
    for sp in ax.spines.values():
        sp.set_linewidth(0.9)
    if bottom:
        ax.set_xticks(xtick_vals)
        ax.set_xticklabels(xtick_text, fontsize=11)
        ax.tick_params(axis="x", direction="in", length=4, width=0.8,
                       top=True, pad=7)
    else:
        ax.set_xticks([])
    ax.tick_params(axis="y", direction="in", length=4, width=0.8,
                   right=True, pad=5)


def draw(ax, s, v, e):
    ax.errorbar(s, v, yerr=e, fmt="o", ms=3.2, color="#ff0000",
                ecolor="#ff1a1a", elinewidth=0.9, capsize=2.3,
                capthick=0.9, mec="#ff0000")


ax1 = add_ax(68.5, 521, 18.3, 172.3)
ax2 = add_ax(68.5, 521, 182.8, 333.3)
ax3 = add_ax(668.7, 1119, 18.3, 172.3)
ax4 = add_ax(668.7, 1119, 182.8, 333.3)

draw(ax1, b1x_s, b1x_val, b1x_err)
draw(ax2, b1y_s, b1y_val, b1y_err)
draw(ax3, b2x_s, b2x_val, b2x_err)
draw(ax4, b2y_s, b2y_val, b2y_err)

for ax, bottom in ((ax1, False), (ax2, True), (ax3, False), (ax4, True)):
    style(ax, bottom)

for name, pos in zip(ir_b1_names, ir_b1_pos):
    ax1.text(pos, -0.297, name, fontsize=12, ha="left", va="baseline")
for name, pos in zip(ir_b2_names, ir_b2_pos):
    ax3.text(pos, -0.297, name, fontsize=12, ha="left", va="baseline")

fig.text(521 / W, 1 - 15 / H, "LHCB1 ATS 450 GeV", fontsize=12,
         ha="right", va="baseline")
fig.text(1117 / W, 1 - 15 / H, "LHCB2 ATS 450GeV", fontsize=12,
         ha="right", va="baseline")

for xc in (19, 619):
    fig.text(xc / W, 1 - 105 / H, r"Δβ/β$_{\mathregular{x}}$", fontsize=14,
             rotation=90, ha="center", va="center")
    fig.text(xc / W, 1 - 265 / H, r"Δβ/β$_{\mathregular{y}}$", fontsize=14,
             rotation=90, ha="center", va="center")

for xc in (295, 894):
    fig.text(xc / W, 1 - 376 / H, "Longitudinal location [m]", fontsize=12,
             ha="center", va="center")

fig.savefig("out.png", dpi=100, facecolor="white")
